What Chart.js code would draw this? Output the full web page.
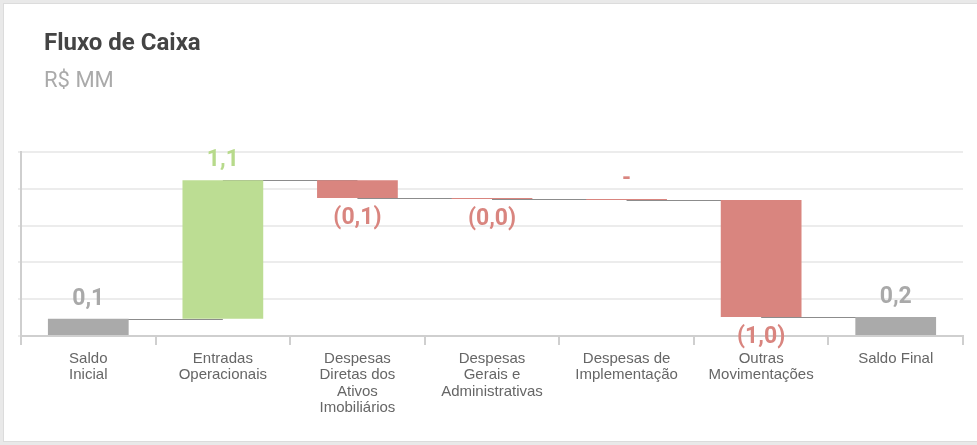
<!DOCTYPE html>
<html>
<head>
<meta charset="utf-8">
<script src="https://cdn.jsdelivr.net/npm/chart.js@4.4.1/dist/chart.umd.min.js"></script>
<style>
  html, body { margin: 0; padding: 0; width: 977px; height: 445px; overflow: hidden; background: #e9e9e9; }
  .card { position: absolute; left: 3px; top: 3px; width: 1000px; height: 437px; background: #fff; border: 1px solid #dcdcdc; }
  .title { position: absolute; left: 44px; top: 30px; font: bold 24px/24px Roboto, sans-serif; color: #444; z-index: 2; }
  .sub { position: absolute; left: 44px; top: 69px; font: 22px/22px Roboto, sans-serif; color: #aaa; z-index: 2; }
  #wrap { position: absolute; left: 0; top: 0; width: 977px; height: 445px; z-index: 1; }
</style>
</head>
<body>
<div class="card"></div>
<div class="title">Fluxo de Caixa</div>
<div class="sub">R$ MM</div>
<div id="wrap"><canvas id="myChart"></canvas></div>

<script>
// categorias (quebradas em linhas como no original)
const categories = [
  ['Saldo', 'Inicial'],
  ['Entradas', 'Operacionais'],
  ['Despesas', 'Diretas dos', 'Ativos', 'Imobiliários'],
  ['Despesas', 'Gerais e', 'Administrativas'],
  ['Despesas de', 'Implementação'],
  ['Outras', 'Movimentações'],
  ['Saldo Final']
];

// valores em R$ MM
const saldoInicial = 0.14;
const movimentos = [1.13, -0.145, -0.008, -0.008, -0.955];
const valueLabels = ['0,1', '1,1', '(0,1)', '(0,0)', '-', '(1,0)', '0,2'];

const yMin = 0;
const yMax = 1.5;
const yStep = 0.3;

const GRAY = '#aaaaaa';
const GREEN = '#bcdd93';
const RED = '#d9857f';

// monta as barras flutuantes da cascata
const bars = [[0, saldoInicial]];
const colors = [GRAY];
const deltas = [saldoInicial];
let acc = saldoInicial;
for (let i = 0; i < movimentos.length; i++) {
    const start = acc;
    acc = acc + movimentos[i];
    bars.push([start, acc]);
    colors.push(movimentos[i] >= 0 ? GREEN : RED);
    deltas.push(movimentos[i]);
}
bars.push([0, acc]);
colors.push(GRAY);
deltas.push(acc);

const labelColors = colors.map(c => c === GRAY ? '#a9a9a9' : (c === GREEN ? '#b7da8b' : '#d9857f'));

// linhas de ligação entre as barras
const connectors = {
    id: 'connectors',
    beforeDatasetsDraw(chart) {
        const { ctx, scales: { x, y } } = chart;
        ctx.save();
        ctx.strokeStyle = '#8c8c8c';
        ctx.lineWidth = 1;
        for (let i = 0; i < bars.length - 1; i++) {
            const level = Math.round(y.getPixelForValue(bars[i][1])) + 0.5;
            ctx.beginPath();
            ctx.moveTo(x.getPixelForValue(i), level);
            ctx.lineTo(x.getPixelForValue(i + 1), level);
            ctx.stroke();
        }
        ctx.restore();
    }
};

// rótulos de valor
const valueText = {
    id: 'valueText',
    afterDatasetsDraw(chart) {
        const { ctx, scales: { x, y } } = chart;
        ctx.save();
        ctx.font = 'bold 23px Roboto';
        ctx.textAlign = 'center';
        for (let i = 0; i < bars.length; i++) {
            const hi = Math.max(bars[i][0], bars[i][1]);
            const lo = Math.min(bars[i][0], bars[i][1]);
            const cx = x.getPixelForValue(i);
            ctx.fillStyle = labelColors[i];
            if (deltas[i] < 0 && valueLabels[i] !== '-') {
                ctx.textBaseline = 'top';
                ctx.fillText(valueLabels[i], cx, y.getPixelForValue(lo) + 9);
            } else {
                ctx.textBaseline = 'alphabetic';
                ctx.fillText(valueLabels[i], cx, y.getPixelForValue(hi) - 14);
            }
        }
        ctx.restore();
    }
};

const config = {
    type: 'bar',
    data: {
        labels: categories,
        datasets: [{
            data: bars,
            backgroundColor: colors,
            borderWidth: 0,
            categoryPercentage: 1,
            barPercentage: 0.6
        }]
    },
    options: {
        responsive: false,
        animation: false,
        layout: { padding: { top: 152, right: 14, left: 0, bottom: 0 } },
        plugins: { legend: { display: false }, tooltip: { enabled: false } },
        scales: {
            x: {
                afterFit(scale) { scale.height = 109; },
                grid: { offset: true, drawOnChartArea: false, drawTicks: true, tickLength: 9, color: '#cfcfcf', lineWidth: 2 },
                border: { color: '#cfcfcf', width: 2 },
                ticks: {
                    color: '#666',
                    font: { family: 'Liberation Sans', size: 15, lineHeight: 1.08 },
                    padding: 6,
                    maxRotation: 0,
                    autoSkip: false
                }
            },
            y: {
                min: yMin,
                max: yMax,
                afterFit(scale) { scale.width = 21; },
                grid: { color: '#ececec', lineWidth: 2, drawTicks: true, tickLength: 3 },
                border: { color: '#cfcfcf', width: 2 },
                ticks: { stepSize: yStep, display: false }
            }
        }
    },
    plugins: [connectors, valueText]
};

const canvas = document.getElementById('myChart');
canvas.width = 977;
canvas.height = 445;
const myChart = new Chart(canvas, config);
</script>
</body>
</html>
